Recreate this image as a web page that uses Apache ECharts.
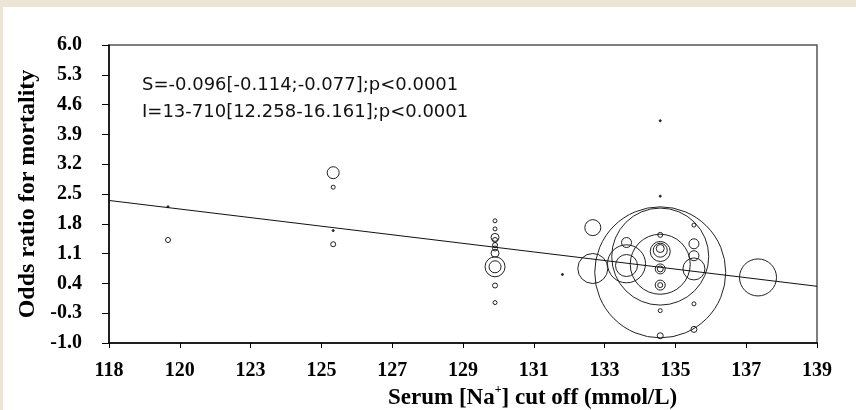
<!DOCTYPE html>
<html>
<head>
<meta charset="utf-8">
<script src="https://cdn.jsdelivr.net/npm/echarts@6/dist/echarts.min.js"></script>
<style>
  html, body { margin: 0; padding: 0; background: #fff; }
  #chart { width: 856px; height: 410px; }
</style>
</head>
<body>
<div id="chart"></div>
<script>
// Serum sodium cut-off of each study (mmol/L)
const sodiumCutoff = [
  120.1, 120.1,
  125.0, 125.0, 125.0, 125.0,
  129.8, 129.8, 129.8, 129.8, 129.8, 129.8, 129.8, 129.8, 129.8, 129.8, 129.8,
  131.8,
  132.7, 132.7,
  133.7, 133.7, 133.7,
  134.7, 134.7, 134.7, 134.7, 134.7, 134.7, 134.7, 134.7, 134.7, 134.7, 134.7, 134.7, 134.7, 134.7, 134.7,
  135.7, 135.7, 135.7, 135.7, 135.7, 135.7,
  137.6
];
// Odds ratio for mortality of each study
const oddsRatio = [
  2.20, 1.42,
  3.00, 2.66, 1.64, 1.32,
  1.87, 1.68, 1.48, 1.42, 1.30, 1.22, 1.11, 0.79, 0.79, 0.35, -0.05,
  0.61,
  1.71, 0.75,
  1.36, 0.82, 0.86,
  4.22, 2.45, 0.66, 1.03, 0.85, 1.54, 1.22, 1.18, 1.15, 0.74, 0.74, 0.36, 0.36, -0.24, -0.83,
  1.77, 1.33, 1.05, 0.74, -0.08, -0.68,
  0.54
];
// Study weight (bubble diameter)
const studyWeight = [
  2, 5,
  12, 4, 2, 5,
  4, 4, 8, 5, 5, 5, 8, 20, 12, 5, 4,
  2,
  16, 30,
  10, 22, 38,
  2, 2, 131, 97, 60, 5, 8, 14, 20, 6, 10, 10, 5, 4, 6,
  4, 10, 10, 22, 4, 6,
  37
];

// Meta-regression: slope and intercept
const regressionSlope = -0.096;
const regressionIntercept = 13.710;

// Axis ticks
const xTickValues = [118.35, 120.45, 122.55, 124.65, 126.75, 128.85, 130.95, 133.05, 135.15, 137.25, 139.35];
const xTickLabels = ['118', '120', '123', '125', '127', '129', '131', '133', '135', '137', '139'];
const xMin = 118.35, xMax = 139.35;
const yMin = -1.0, yMax = 6.0, yStep = 0.7;

const bubbles = sodiumCutoff.map((x, i) => [x, oddsRatio[i], studyWeight[i]]);
const fitLine = [xMin, xMax].map(x => [x, regressionIntercept + regressionSlope * x]);

const serif = '"Liberation Serif", "Times New Roman", serif';

const chart = echarts.init(document.getElementById('chart'), null, { renderer: 'canvas' });
chart.setOption({
  animation: false,
  backgroundColor: '#ffffff',
  grid: {
    left: 109, right: 39, top: 45, bottom: 67,
    show: true, borderColor: '#555', borderWidth: 1.5,
    backgroundColor: 'transparent'
  },
  xAxis: {
    type: 'value',
    min: xMin, max: xMax,
    splitLine: { show: false },
    axisLine: { onZero: false, lineStyle: { color: '#000', width: 1.5 } },
    axisTick: { show: true, length: 5, customValues: xTickValues, lineStyle: { color: '#000' } },
    axisLabel: {
      customValues: xTickValues,
      margin: 18,
      fontFamily: serif, fontWeight: 'bold', fontSize: 20, color: '#000',
      formatter: v => {
        const i = xTickValues.findIndex(t => Math.abs(t - v) < 1e-6);
        return i >= 0 ? xTickLabels[i] : '';
      }
    }
  },
  yAxis: {
    type: 'value',
    min: yMin, max: yMax, interval: yStep,
    splitLine: { show: false },
    axisLine: { lineStyle: { color: '#000', width: 1.5 } },
    axisTick: { show: true, length: 7, lineStyle: { color: '#000' } },
    axisLabel: {
      margin: 27,
      fontFamily: serif, fontWeight: 'bold', fontSize: 20, color: '#000',
      formatter: v => v.toFixed(1)
    },
    name: 'Odds ratio for mortality',
    nameLocation: 'middle',
    nameGap: 60,
    nameTextStyle: { fontFamily: serif, fontWeight: 'bold', fontSize: 24, color: '#000' }
  },
  graphic: [
    { type: 'rect', left: 0, top: 0, shape: { width: 856, height: 7 }, style: { fill: '#ece5d6' }, silent: true },
    { type: 'rect', left: 0, top: 0, shape: { width: 3, height: 410 }, style: { fill: '#ece5d6' }, silent: true },
    {
      type: 'text', left: 142, top: 72,
      style: {
        text: 'S=-0.096[-0.114;-0.077];p<0.0001\nI=13-710[12.258-16.161];p<0.0001',
        font: '18px "DejaVu Sans", sans-serif',
        lineHeight: 27, fill: '#111'
      }
    },
    {
      type: 'text', left: 388, top: 384,
      style: {
        text: '{a|Serum [Na}{s|+}{a|] cut off (mmol/L)}',
        rich: {
          a: { fontFamily: serif, fontWeight: 'bold', fontSize: 23, fill: '#000', verticalAlign: 'bottom', lineHeight: 26 },
          s: { fontFamily: serif, fontWeight: 'bold', fontSize: 12, fill: '#000', verticalAlign: 'top', lineHeight: 26, padding: [0, 0, 12, 0] }
        }
      }
    }
  ],
  series: [
    {
      type: 'scatter',
      data: bubbles,
      symbol: 'circle',
      symbolSize: v => v[2],
      itemStyle: {
        color: p => (p.value[2] <= 3 ? '#222' : 'rgba(0,0,0,0)'),
        borderColor: '#222',
        borderWidth: 1,
        opacity: 1
      },
      z: 3
    },
    {
      type: 'line',
      data: fitLine,
      symbol: 'none',
      lineStyle: { color: '#111', width: 1 },
      z: 4
    }
  ]
});
</script>
</body>
</html>
